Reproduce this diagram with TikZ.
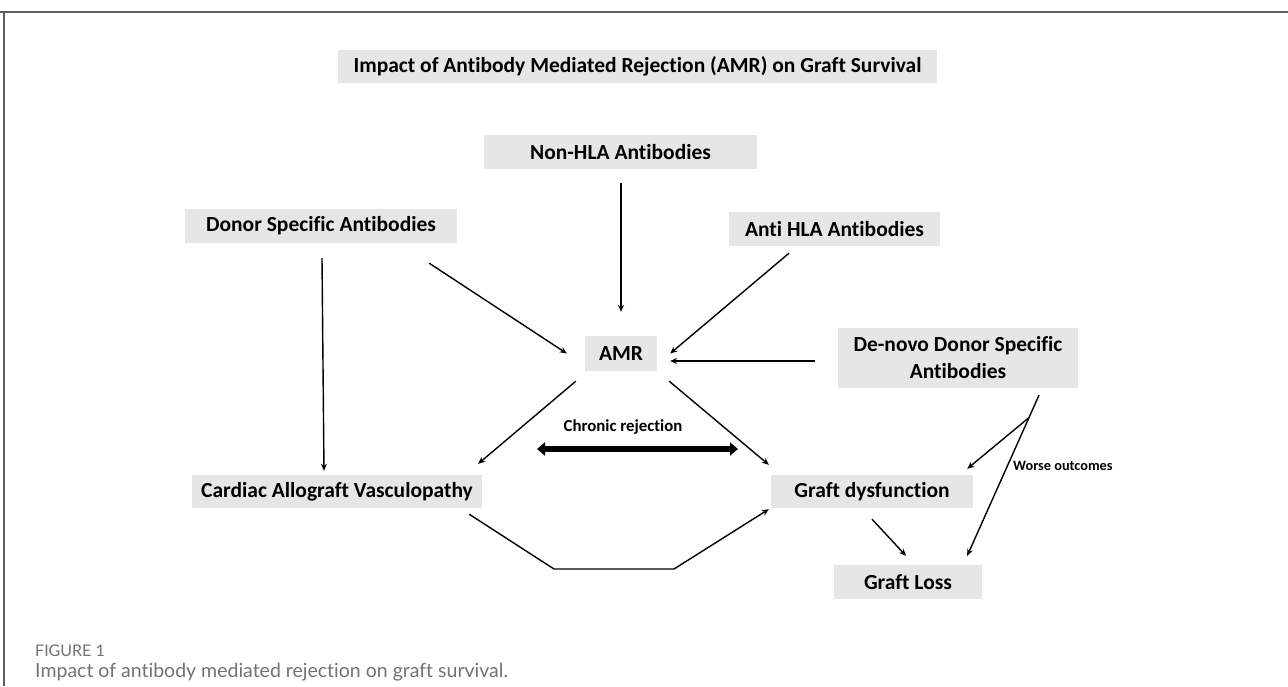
\documentclass[tikz,border=0pt]{standalone}
\usepackage{fontspec}
\setmainfont{Carlito}[Ligatures=NoCommon]
\newfontfamily\capfont{Lato}[Ligatures=NoCommon]
\usetikzlibrary{arrows.meta,calc}
\definecolor{boxgray}{RGB}{231,230,230}
\definecolor{capgray}{RGB}{115,115,115}
\definecolor{framegray}{RGB}{95,95,95}
\begin{document}
\begin{tikzpicture}[x=1pt,y=-1pt,
  box/.style={fill=boxgray, inner sep=0pt, align=center,
    font=\bfseries\fontsize{21.5}{27}\selectfont},
  arr/.style={-{Stealth[length=7pt,width=6pt]}, line width=1.4pt},
  thickarr/.style={{Triangle[length=8pt,width=13pt]}-{Triangle[length=8pt,width=13pt]}, line width=5.5pt},
  lbl/.style={inner sep=0pt, font=\bfseries\fontsize{16.8}{19}\selectfont},
  small/.style={inner sep=0pt, font=\bfseries\fontsize{14.3}{16}\selectfont},
  frame/.style={draw=framegray, line width=1.3pt}
  ]
\useasboundingbox (0,0) rectangle (1288,686);
\fill[white] (0,0) rectangle (1288,686);
% frame
\draw[frame] (0,12) -- (1288,12);
\draw[frame] (4,12) -- (4,686);

% boxes
\node[box, minimum width=599pt, minimum height=33pt] (title) at (637.5,66.5)
  {Impact of Antibody Mediated Rejection (AMR) on Graft Survival};
\node[box, minimum width=273pt, minimum height=34pt] (nonhla) at (620.5,152) {Non-HLA Antibodies};
\node[box, minimum width=272pt, minimum height=34pt] (dsa) at (321,226) {Donor Specific Antibodies};
\node[box, minimum width=211pt, minimum height=34pt] (antihla) at (834.5,229) {Anti HLA Antibodies};
\node[box, minimum width=72pt, minimum height=35pt] (amr) at (621,353.5) {AMR};
\node[box, minimum width=240pt, minimum height=60pt] (denovo) at (958,358) {De-novo Donor Specific\\Antibodies};
\node[box, minimum width=290pt, minimum height=33pt] (cav) at (337,491.5) {Cardiac Allograft Vasculopathy};
\node[box, minimum width=202pt, minimum height=33pt] (gd) at (872,491.5) {Graft dysfunction};
\node[box, minimum width=148pt, minimum height=34pt] (gl) at (908,582) {Graft Loss};

% labels
\node[lbl] (chronic) at (623,427) {Chronic rejection};
\node[small, anchor=west] (worse) at (1013,466) {Worse outcomes};

% connectors
\draw[arr] ($(nonhla.south)+(0.5,14)$) -- ($(amr.north)+(0,-24)$);
\draw[arr] ($(dsa.south east)+(-28,20)$) -- ($(amr.west)+(-18,0)$);
\draw[arr] ($(antihla.south)+(-45.5,7)$) -- ($(amr.east)+(13,0)$);
\draw[arr] ($(denovo.west)+(-23,3)$) -- ($(amr.east)+(13,7.5)$);
\draw[arr] ($(dsa.south)+(1,15)$) -- ($(cav.north)+(-13,-4)$);
\draw[arr] ($(amr.south west)+(-9,10)$) -- ($(cav.north east)+(-4,-11)$);
\draw[arr] ($(amr.south east)+(12,10)$) -- ($(gd.north west)+(-2,-10)$);
\coordinate (crL) at (537,449);
\coordinate (crR) at (738,449);
\draw[thickarr] (crL) -- (crR);
\coordinate (bendL) at (554,569);
\coordinate (bendR) at (674,569);
\draw[arr] ($(cav.south east)+(-13,6)$) -- (bendL) -- (bendR) -- ($(gd.south west)+(-2,1)$);
\draw[arr] ($(gd.south)+(0,11)$) -- ($(gl.north)+(-2,-9)$);
\draw[arr] ($(denovo.south)+(81,7)$) -- ($(gl.north east)+(-15,-9)$);
\coordinate (fork) at (1028.5,418);
\draw[arr] (fork) -- ($(gd.north east)+(-6,-6)$);

% caption
\node[anchor=west, inner sep=0pt, text=capgray, font=\capfont\fontsize{16}{18}\selectfont] (figlbl) at (35,651) {FIGURE 1};
\node[anchor=west, inner sep=0pt, text=capgray, font=\capfont\fontsize{19.5}{23}\selectfont] (caption) at (35,672) {Impact of antibody mediated rejection on graft survival.};
\end{tikzpicture}
\end{document}
